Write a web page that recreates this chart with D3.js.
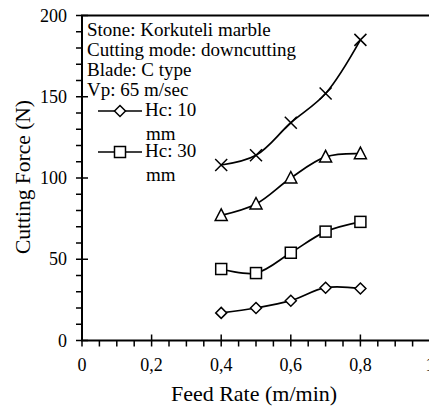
<!DOCTYPE html>
<html>
<head>
<meta charset="utf-8">
<script src="https://cdn.jsdelivr.net/npm/d3@7"></script>
<style>
  html, body { margin: 0; padding: 0; background: #fff; }
  svg { display: block; }
  svg text { font-family: "Liberation Serif", "DejaVu Serif", serif; }
</style>
</head>
<body>
<svg class="svg"></svg>
<script>
// values
const feedRate = [0.4, 0.5, 0.6, 0.7, 0.8];
const hc10 = [17, 20, 24.5, 32.5, 32];
const hc30 = [44, 41.5, 54, 67, 73];
const hc50 = [77, 84, 100, 113, 115];
const hc70 = [108, 114, 134, 152, 185];

const xTicks = [0, 0.2, 0.4, 0.6, 0.8, 1];
const yTicks = [0, 50, 100, 150, 200];

const infoLines = [
  'Stone: Korkuteli marble',
  'Cutting mode: downcutting',
  'Blade: C type',
  'Vp: 65 m/sec'
];

const series = [
  { name: 'Hc: 10 mm', values: hc10, marker: 'diamond' },
  { name: 'Hc: 30 mm', values: hc30, marker: 'square' },
  { name: 'Hc: 50 mm', values: hc50, marker: 'triangle' },
  { name: 'Hc: 70 mm', values: hc70, marker: 'cross' }
];

const width = 429;
const height = 406;
const serif = '"Liberation Serif", "DejaVu Serif", serif';

const svg = d3.select('.svg')
  .attr('width', width)
  .attr('height', height)
  .attr('font-family', serif);

const x = d3.scaleLinear().domain([0, 1]).range([82, 430]);
const y = d3.scaleLinear().domain([0, 200]).range([340.5, 15.5]);

const fmt = d => (d === 0 || d === 1) ? String(d) : d3.format('.1f')(d).replace('.', ',');

// frame (right side sits just outside the window)
svg.append('path')
  .attr('d', `M${x(1)},${y(200)} L${x(0)},${y(200)} L${x(0)},${y(0)} L${x(1)},${y(0)}`)
  .attr('fill', 'none')
  .attr('stroke', '#000')
  .attr('stroke-width', 2);

// y ticks
const yMinor = d3.range(0, 201, 10).filter(v => v % 50 !== 0);
svg.append('g').selectAll('line')
  .data(yMinor)
  .join('line')
  .attr('x1', x(0) - 6).attr('x2', x(0))
  .attr('y1', d => y(d)).attr('y2', d => y(d))
  .attr('stroke', '#000').attr('stroke-width', 1.5);

svg.append('g').selectAll('line')
  .data(yTicks)
  .join('line')
  .attr('x1', x(0) - 6).attr('x2', x(0) + 6)
  .attr('y1', d => y(d)).attr('y2', d => y(d))
  .attr('stroke', '#000').attr('stroke-width', 1.5);

svg.append('g').selectAll('text')
  .data(yTicks)
  .join('text')
  .attr('x', 67)
  .attr('y', d => y(d) + 6)
  .attr('text-anchor', 'end')
  .attr('font-family', serif)
  .attr('font-size', 18)
  .text(d => d);

// x ticks
const xMinor = d3.range(0, 21).map(i => i * 0.05).filter((v, i) => i % 4 !== 0);
svg.append('g').selectAll('line')
  .data(xMinor)
  .join('line')
  .attr('x1', d => x(d)).attr('x2', d => x(d))
  .attr('y1', y(0)).attr('y2', y(0) + 6)
  .attr('stroke', '#000').attr('stroke-width', 1.5);

svg.append('g').selectAll('line')
  .data(xTicks)
  .join('line')
  .attr('x1', d => x(d)).attr('x2', d => x(d))
  .attr('y1', y(0) - 6).attr('y2', y(0) + 6)
  .attr('stroke', '#000').attr('stroke-width', 1.5);

svg.append('g').selectAll('text')
  .data(xTicks)
  .join('text')
  .attr('x', d => x(d))
  .attr('y', 371)
  .attr('text-anchor', 'middle')
  .attr('font-family', serif)
  .attr('font-size', 18)
  .text(fmt);

// axis titles
svg.append('text')
  .attr('x', 254)
  .attr('y', 401)
  .attr('text-anchor', 'middle')
  .attr('font-family', serif)
  .attr('font-size', 22)
  .text('Feed Rate (m/min)');

svg.append('text')
  .attr('transform', 'translate(30,177) rotate(-90)')
  .attr('text-anchor', 'middle')
  .attr('font-family', serif)
  .attr('font-size', 21.5)
  .text('Cutting Force (N)');

// markers
function drawMarker(sel, type) {
  if (type === 'diamond') {
    sel.append('path').attr('d', 'M0,-5.5 L5.5,0 L0,5.5 L-5.5,0 Z')
      .attr('fill', '#fff').attr('stroke', '#000').attr('stroke-width', 1.5);
  } else if (type === 'square') {
    sel.append('rect').attr('x', -5.5).attr('y', -5.5).attr('width', 11).attr('height', 11)
      .attr('fill', '#fff').attr('stroke', '#000').attr('stroke-width', 1.5);
  } else if (type === 'triangle') {
    sel.append('path').attr('d', 'M0,-6.5 L6,5 L-6,5 Z')
      .attr('fill', '#fff').attr('stroke', '#000').attr('stroke-width', 1.5);
  } else {
    sel.append('path').attr('d', 'M-6,-6 L6,6 M-6,6 L6,-6')
      .attr('fill', 'none').attr('stroke', '#000').attr('stroke-width', 1.5);
  }
}

const line = d3.line()
  .x((d, i) => x(feedRate[i]))
  .y(d => y(d))
  .curve(d3.curveCatmullRom.alpha(0.5));

const seriesG = svg.append('g')
  .selectAll('g')
  .data(series)
  .join('g');

seriesG.append('path')
  .attr('d', d => line(d.values))
  .attr('fill', 'none')
  .attr('stroke', '#000')
  .attr('stroke-width', 1.7);

seriesG.each(function(s) {
  d3.select(this).selectAll('g.pt')
    .data(s.values)
    .join('g')
    .attr('class', 'pt')
    .attr('transform', (d, i) => `translate(${x(feedRate[i])},${y(d)})`)
    .each(function() { drawMarker(d3.select(this), s.marker); });
});

// info text + legend (only first two entries are visible in the original)
svg.append('g').selectAll('text')
  .data(infoLines)
  .join('text')
  .attr('x', 87)
  .attr('y', (d, i) => 36 + i * 20)
  .attr('font-family', serif)
  .attr('font-size', 19)
  .text(d => d);

const legendRows = [{ s: series[0], y: 111 }, { s: series[1], y: 152 }];
const leg = svg.append('g').selectAll('g')
  .data(legendRows)
  .join('g')
  .attr('transform', d => `translate(0,${d.y})`);

leg.append('line')
  .attr('x1', 98).attr('x2', 142)
  .attr('stroke', '#000').attr('stroke-width', 1.7);

leg.append('g')
  .attr('transform', 'translate(120,0)')
  .each(function(d) { drawMarker(d3.select(this), d.s.marker); });

leg.append('text')
  .attr('x', 145)
  .attr('y', 5)
  .attr('font-family', serif)
  .attr('font-size', 19)
  .text(d => d.s.name.split(' ').slice(0, 2).join(' '));

leg.append('text')
  .attr('x', 146)
  .attr('y', 29)
  .attr('font-family', serif)
  .attr('font-size', 19)
  .text(d => d.s.name.split(' ')[2]);
</script>
</body>
</html>
